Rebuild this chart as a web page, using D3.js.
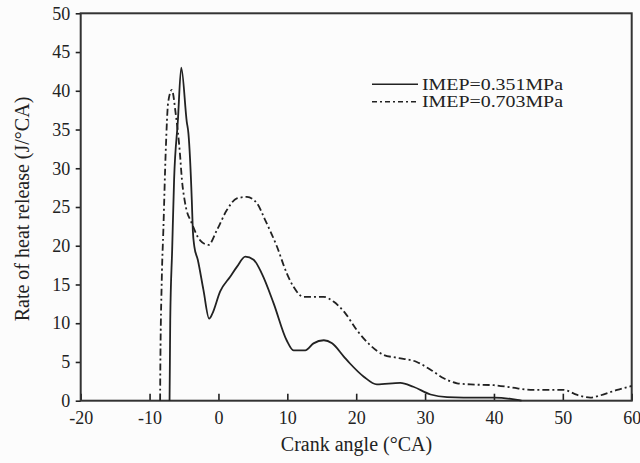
<!DOCTYPE html>
<html>
<head>
<meta charset="utf-8">
<script src="https://cdn.jsdelivr.net/npm/d3@7"></script>
<style>
  html, body { margin: 0; padding: 0; background: #fcfcfc; }
  svg { display: block; }
  text { font-family: "Liberation Serif", "Times New Roman", serif; fill: #222; }
</style>
</head>
<body>
<svg id="chart" width="640" height="463"></svg>
<script>
// ---- data ----
const xTicks = [-20, -10, 0, 10, 20, 30, 40, 50, 60];
const yTicks = [0, 5, 10, 15, 20, 25, 30, 35, 40, 45, 50];
const seriesNames = ["IMEP=0.351MPa", "IMEP=0.703MPa"];
const angleLow = [-7.1, -7.05, -7.0, -6.72, -6.44, -5.9, -5.4, -4.6, -4.36, -3.87, -3.72, -3.5, -3.0, -2.18, -1.35, -0.9, 0.25, 1.7, 2.7, 3.9, 5.1, 6.3, 8.0, 9.9, 10.9, 12.6, 13.8, 15.3, 16.5, 18.2, 19.1, 21.1, 23.0, 26.4, 28.3, 30.8, 33.2, 35.6, 40, 43.4, 44];
const rateLow  = [0, 5, 10.4, 19.5, 28.5, 36, 43, 36, 34.5, 25.9, 22, 19.9, 18.2, 14.3, 10.6, 11.2, 14.1, 16.0, 17.3, 18.6, 18.2, 16.4, 12.6, 7.8, 6.5, 6.5, 7.4, 7.8, 7.4, 5.7, 4.8, 3.1, 2.1, 2.3, 1.8, 0.8, 0.45, 0.4, 0.4, 0.1, 0];
const angleHigh = [-8.47, -8.45, -8.23, -8.0, -7.65, -7.3, -6.77, -6.2, -5.6, -5.3, -4.84, -3.87, -2.66, -1.45, -0.23, 1.22, 2.67, 4.13, 5.58, 6.79, 8.49, 9.94, 10.9, 12.35, 15.26, 16.7, 18.4, 20.1, 22.0, 24.0, 25.9, 28.8, 30.8, 32.7, 34.65, 36.6, 40, 43.4, 45.3, 50.1, 52.1, 54.0, 55.5, 57.9, 60];
const rateHigh  = [0, 3, 15.6, 22, 32.3, 38.5, 40.1, 37, 32, 28.5, 25.5, 22.9, 20.7, 20.1, 22.0, 24.6, 26.1, 26.3, 25.5, 23.3, 19.9, 16.4, 14.7, 13.4, 13.4, 12.8, 11.3, 9.1, 7.2, 5.9, 5.55, 5.0, 4.0, 2.9, 2.25, 2.1, 2.0, 1.6, 1.4, 1.4, 0.74, 0.4, 0.7, 1.4, 1.9];

// ---- layout ----
const svg = d3.select("#chart");
const plotLeft = 80.7, plotRight = 631.7, plotTop = 13.3, plotBottom = 400.7;
const x = d3.scaleLinear().domain([-20, 60]).range([plotLeft, plotRight]);
const y = d3.scaleLinear().domain([0, 50]).range([plotBottom, plotTop]);
const ink = "#222";
const serif = "'Liberation Serif', 'Times New Roman', serif";

// axes
const xAxis = d3.axisBottom(x).tickValues(xTicks).tickFormat(d => String(d))
  .tickSizeInner(-7).tickSizeOuter(0).tickPadding(11);
const gx = svg.append("g").attr("transform", `translate(0,${plotBottom})`).call(xAxis);
gx.select(".domain").remove();
gx.selectAll("line").attr("stroke", ink).attr("stroke-width", 1.6);
gx.selectAll("text").attr("font-size", 18).attr("fill", ink).attr("font-family", serif);

const yAxis = d3.axisLeft(y).tickValues(yTicks).tickFormat(d => String(d))
  .tickSizeInner(5).tickSizeOuter(0).tickPadding(5.5);
const gy = svg.append("g").attr("transform", `translate(${plotLeft},0)`).call(yAxis);
gy.select(".domain").remove();
gy.selectAll("line").attr("stroke", ink).attr("stroke-width", 1.6);
gy.selectAll("text").attr("font-size", 18).attr("fill", ink).attr("font-family", serif);

// frame
svg.append("rect")
  .attr("x", plotLeft).attr("y", plotTop)
  .attr("width", plotRight - plotLeft).attr("height", plotBottom - plotTop)
  .attr("fill", "none").attr("stroke", "#333").attr("stroke-width", 2);

// curves
const line = d3.line().x(d => x(d[0])).y(d => y(d[1])).curve(d3.curveMonotoneX);
const low = angleLow.map((a, i) => [a, rateLow[i]]);
const high = angleHigh.map((a, i) => [a, rateHigh[i]]);
const dashPattern = "7,3,2,3";

svg.append("path").datum(high).attr("d", line)
  .attr("fill", "none").attr("stroke", ink).attr("stroke-width", 1.8)
  .attr("stroke-dasharray", dashPattern);
svg.append("path").datum(low).attr("d", line)
  .attr("fill", "none").attr("stroke", ink).attr("stroke-width", 1.8);

// axis titles
svg.append("text").attr("x", 356.5).attr("y", 451).attr("text-anchor", "middle")
  .attr("font-size", 20).attr("font-family", serif).text("Crank angle (°CA)");
svg.append("text").attr("transform", "translate(29,209) rotate(-90)")
  .attr("text-anchor", "middle").attr("font-size", 20).attr("font-family", serif)
  .text("Rate of heat release (J/°CA)");

// legend
const legendY = [84.3, 101.7];
const legend = svg.append("g");
seriesNames.forEach((name, i) => {
  legend.append("line").attr("x1", 372).attr("x2", 418)
    .attr("y1", legendY[i]).attr("y2", legendY[i])
    .attr("stroke", ink).attr("stroke-width", 1.6)
    .attr("stroke-dasharray", i === 1 ? "5,3,2,3" : null);
  legend.append("text").attr("x", 422).attr("y", legendY[i] + 5.5)
    .attr("font-size", 16.5).attr("font-family", serif)
    .attr("textLength", 141).attr("lengthAdjust", "spacingAndGlyphs")
    .text(name);
});
</script>
</body>
</html>
